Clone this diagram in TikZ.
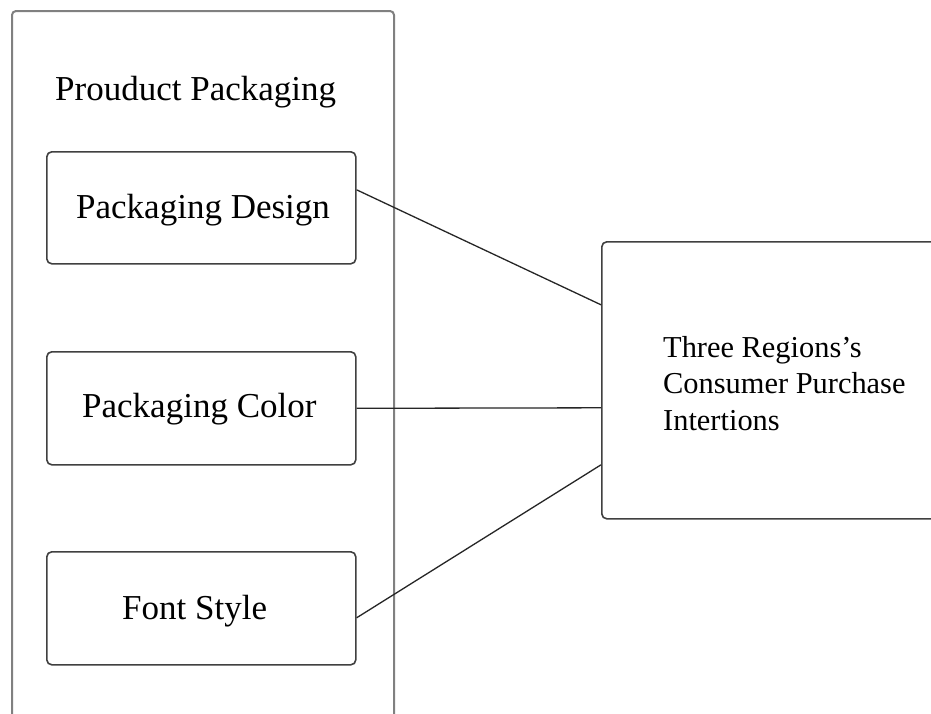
\documentclass[tikz,border=0pt]{standalone}
\usepackage{fontspec}
\setmainfont{Liberation Serif}
\begin{document}
\begin{tikzpicture}[x=1pt,y=-1pt,
  outerbox/.style={draw=black!50,line width=2pt,rounded corners=4pt},
  itembox/.style={draw=black!75,line width=1.6pt,rounded corners=5pt},
  link/.style={draw=black!85,line width=1.3pt},
  bigtext/.style={font=\fontsize{35}{42}\selectfont,inner sep=0pt},
  smalltext/.style={font=\fontsize{30.4}{36.5}\selectfont,inner sep=0pt,align=left}]
\fill[white] (0,0) rectangle (931,713);
\useasboundingbox (0,0) rectangle (931,713);
\begin{scope}
\clip (0,0) rectangle (931,713);
% container for the packaging factors (runs past the bottom edge)
\node[outerbox,minimum width=382pt,minimum height=740pt,anchor=north west] (outer) at (11,10) {};
% outcome box (runs past the right edge)
\node[itembox,minimum width=360pt,minimum height=277pt,anchor=north west] (res) at (601,241) {};
\end{scope}
\node[bigtext,anchor=base west] (title) at (55,100) {Prouduct Packaging};
% factor boxes
\node[itembox,minimum width=309pt,minimum height=112pt,anchor=north west] (b1) at (46,151) {};
\node[itembox,minimum width=309pt,minimum height=113pt,anchor=north west] (b2) at (46,351) {};
\node[itembox,minimum width=309pt,minimum height=113pt,anchor=north west] (b3) at (46,551) {};
\node[bigtext,anchor=base west] (t1) at (76,218) {Packaging Design};
\node[bigtext,anchor=base west] (t2) at (82,417) {Packaging Color};
\node[bigtext,anchor=base west] (t3) at (122,619) {Font Style};
\node[smalltext,anchor=north west] (tr) at (663,336) {Three Regions’s\\Consumer Purchase\\Intertions};
% connectors (shifts measured upward on the page)
\draw[link] ([yshift=18pt]b1.east) -- ([yshift=75.5pt]res.west);
\draw[link] (b2.east) -- ([yshift=-27.5pt]res.west);
\draw[link] ([yshift=-9.5pt]b3.east) -- ([yshift=-84.5pt]res.west);
\end{tikzpicture}
\end{document}
